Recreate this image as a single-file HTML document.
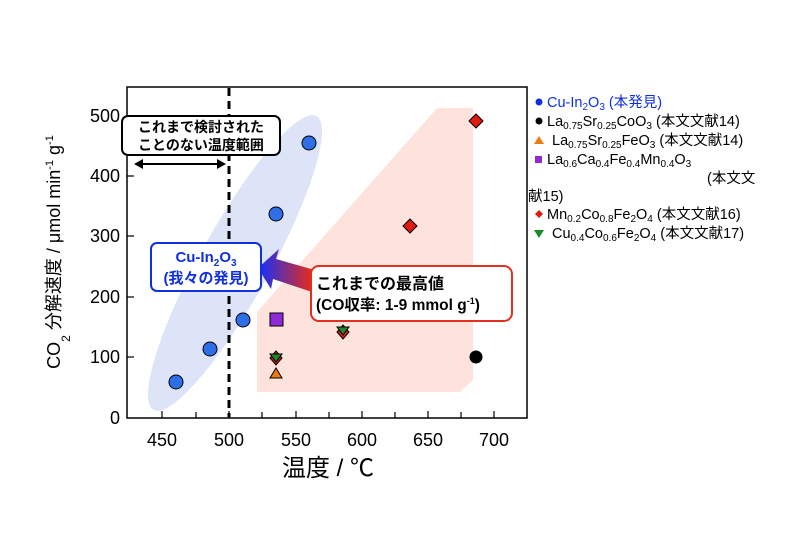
<!DOCTYPE html>
<html><head><meta charset="utf-8"><style>
body{margin:0;background:#fff;}
svg{display:block;font-family:"Liberation Sans","Noto Sans CJK JP",sans-serif;}
</style></head><body>
<svg width="800" height="533" viewBox="0 0 800 533">
<defs>
<linearGradient id="g" x1="1" y1="0" x2="0" y2="0"><stop offset="0" stop-color="#ff2a00"/><stop offset="1" stop-color="#1030ff"/></linearGradient>
</defs>
<polygon points="257,392 257,312 437,108 473,108 473,380 460,392" fill="#fde3dc"/>
<ellipse cx="235" cy="263" rx="168" ry="35" transform="rotate(-61 235 263)" fill="#dde4f8"/>
<line x1="229" y1="88" x2="229" y2="417" stroke="#000" stroke-width="3" stroke-dasharray="8,5"/>
<rect x="127" y="87" width="400" height="331" fill="none" stroke="#000" stroke-width="1.5"/>
<g stroke="#000" stroke-width="1.2">
<line x1="162" y1="418" x2="162" y2="411"/><line x1="196" y1="418" x2="196" y2="412"/><line x1="229" y1="418" x2="229" y2="411"/><line x1="262" y1="418" x2="262" y2="412"/><line x1="296" y1="418" x2="296" y2="411"/><line x1="329" y1="418" x2="329" y2="412"/><line x1="362" y1="418" x2="362" y2="411"/><line x1="395" y1="418" x2="395" y2="412"/><line x1="428" y1="418" x2="428" y2="411"/><line x1="461" y1="418" x2="461" y2="412"/><line x1="494" y1="418" x2="494" y2="411"/>
<line x1="127" y1="357" x2="134" y2="357"/><line x1="127" y1="297" x2="134" y2="297"/><line x1="127" y1="236" x2="134" y2="236"/><line x1="127" y1="176" x2="134" y2="176"/><line x1="127" y1="116" x2="134" y2="116"/>
</g>
<g font-size="18" text-anchor="middle" fill="#000">
<text x="162" y="446">450</text><text x="229" y="446">500</text><text x="296" y="446">550</text><text x="362" y="446">600</text><text x="428" y="446">650</text><text x="494" y="446">700</text>
</g>
<g font-size="18" text-anchor="end" fill="#000">
<text x="120" y="424">0</text><text x="120" y="363">100</text><text x="120" y="303">200</text><text x="120" y="242">300</text><text x="120" y="182">400</text><text x="120" y="122">500</text>
</g>
<text x="328" y="476" font-size="24" text-anchor="middle">温度 / ℃</text>
<text transform="translate(60,252) rotate(-90)" font-size="18" text-anchor="middle">CO<tspan font-size="12" dy="10">2</tspan><tspan dy="-10"> 分解速度 / μmol min</tspan><tspan font-size="11" dy="-7">-1</tspan><tspan dy="7"> g</tspan><tspan font-size="11" dy="-7">-1</tspan></text>
<rect x="122" y="116" width="158" height="39" rx="6" fill="#fff" stroke="#000" stroke-width="2"/>
<text x="201" y="132" font-size="14" font-weight="bold" text-anchor="middle">これまで検討された</text>
<text x="201" y="150" font-size="14" font-weight="bold" text-anchor="middle">ことのない温度範囲</text>
<line x1="140" y1="164" x2="220" y2="164" stroke="#000" stroke-width="2"/>
<polygon points="134,164 143,159 143,169"/><polygon points="226,164 217,159 217,169"/>
<g stroke="#000" stroke-width="1">
<circle cx="176" cy="382" r="7" fill="#2e6fe8"/><circle cx="210" cy="349" r="7" fill="#2e6fe8"/><circle cx="243" cy="320" r="7" fill="#2e6fe8"/><circle cx="276" cy="214" r="7" fill="#2e6fe8"/><circle cx="309" cy="143" r="7" fill="#2e6fe8"/>
<rect x="270" y="313" width="13" height="13" fill="#8e2bd6"/>
<polygon points="276,368 282,378 270,378" fill="#f07a12"/>
<polygon points="276,351 282,358 276,365 270,358" fill="#e01b10"/><polygon points="270,354 282,354 276,362" fill="#1b8a2a"/>
<polygon points="343,325 349,332 343,339 337,332" fill="#e01b10"/><polygon points="337,327 349,327 343,335" fill="#1b8a2a"/>
<polygon points="410,219 417,226 410,233 403,226" fill="#e01b10"/>
<polygon points="476,114 483,121 476,128 469,121" fill="#e01b10"/>
<circle cx="476" cy="357" r="6" fill="#000"/>
</g>
<polygon points="318,271 276,259 279,249 258,268 271,289 273,279 315,293" fill="url(#g)"/>
<rect x="151" y="243" width="110" height="48" rx="6" fill="#fff" stroke="#1030e0" stroke-width="2"/>
<text x="206" y="262" font-size="15" font-weight="bold" fill="#1030e0" text-anchor="middle">Cu-In<tspan font-size="10" dy="4">2</tspan><tspan dy="-4">O</tspan><tspan font-size="10" dy="4">3</tspan></text>
<text x="206" y="283" font-size="15" font-weight="bold" fill="#1030e0" text-anchor="middle">(我々の発見)</text>
<rect x="311" y="266" width="201" height="55" rx="8" fill="#fff" stroke="#e03020" stroke-width="2"/>
<text x="316" y="289" font-size="16" font-weight="bold">これまでの最高値</text>
<text x="316" y="310" font-size="15.5" font-weight="bold">(CO収率: 1-9 mmol g<tspan font-size="9" dy="-6">-1</tspan><tspan dy="6">)</tspan></text>
<g font-size="14.5">
<circle cx="539" cy="102" r="3.5" fill="#1030e0"/>
<text x="547" y="107" fill="#1030e0">Cu-In<tspan font-size="10" dy="3">2</tspan><tspan dy="-3">O</tspan><tspan font-size="10" dy="3">3</tspan><tspan dy="-3"> (本発見)</tspan></text>
<circle cx="539" cy="121" r="3.5" fill="#000"/>
<text x="547" y="126">La<tspan font-size="10" dy="3">0.75</tspan><tspan dy="-3">Sr</tspan><tspan font-size="10" dy="3">0.25</tspan><tspan dy="-3">CoO</tspan><tspan font-size="10" dy="3">3</tspan><tspan dy="-3"> (本文文献14)</tspan></text>
<polygon points="539,136 544,144 534,144" fill="#f07a12"/>
<text x="552" y="145">La<tspan font-size="10" dy="3">0.75</tspan><tspan dy="-3">Sr</tspan><tspan font-size="10" dy="3">0.25</tspan><tspan dy="-3">FeO</tspan><tspan font-size="10" dy="3">3</tspan><tspan dy="-3"> (本文文献14)</tspan></text>
<rect x="535" y="156" width="7" height="7" fill="#8e2bd6"/>
<text x="547" y="164">La<tspan font-size="10" dy="3">0.6</tspan><tspan dy="-3">Ca</tspan><tspan font-size="10" dy="3">0.4</tspan><tspan dy="-3">Fe</tspan><tspan font-size="10" dy="3">0.4</tspan><tspan dy="-3">Mn</tspan><tspan font-size="10" dy="3">0.4</tspan><tspan dy="-3">O</tspan><tspan font-size="10" dy="3">3</tspan></text>
<text x="707" y="183">(本文文</text>
<text x="528" y="201">献15)</text>
<polygon points="539,210 543,214 539,218 535,214" fill="#e01b10"/>
<text x="547" y="219">Mn<tspan font-size="10" dy="3">0.2</tspan><tspan dy="-3">Co</tspan><tspan font-size="10" dy="3">0.8</tspan><tspan dy="-3">Fe</tspan><tspan font-size="10" dy="3">2</tspan><tspan dy="-3">O</tspan><tspan font-size="10" dy="3">4</tspan><tspan dy="-3"> (本文文献16)</tspan></text>
<polygon points="534,230 544,230 539,238" fill="#1b8a2a"/>
<text x="552" y="238">Cu<tspan font-size="10" dy="3">0.4</tspan><tspan dy="-3">Co</tspan><tspan font-size="10" dy="3">0.6</tspan><tspan dy="-3">Fe</tspan><tspan font-size="10" dy="3">2</tspan><tspan dy="-3">O</tspan><tspan font-size="10" dy="3">4</tspan><tspan dy="-3"> (本文文献17)</tspan></text>
</g>
</svg>
</body></html>
